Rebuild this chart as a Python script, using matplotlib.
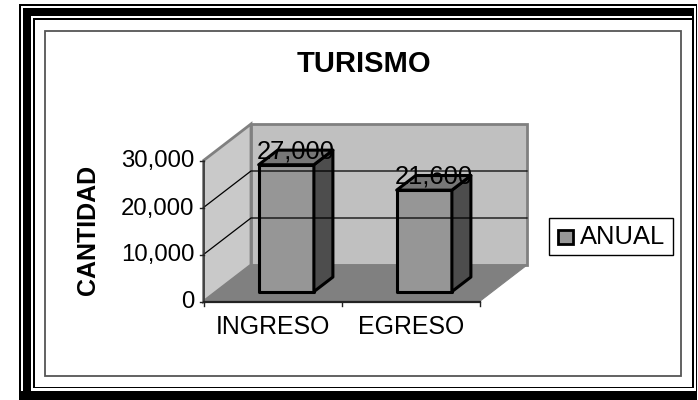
import matplotlib
matplotlib.use("Agg")
import matplotlib.pyplot as plt
from matplotlib.patches import Polygon, Rectangle

categories = ["INGRESO", "EGRESO"]
anual = [27000, 21600]
value_ticks = [0, 10000, 20000, 30000]
tick_labels = ["0", "10,000", "20,000", "30,000"]
title = "TURISMO"
y_title = "CANTIDAD"
legend_label = "ANUAL"

W, H = 698, 400
plt.rcParams["font.family"] = ["Liberation Sans", "DejaVu Sans"]

# pixel layout of the fake 3d box
X0, Y0 = 203.5, 301.5
BOX_W = 276.0
PX_PER_VAL = 141.0 / 30000
DX, DY = 47.5, -36.5
VMAX = 30000

fig = plt.figure(figsize=(W / 100, H / 100), dpi=100)
ax = fig.add_axes([0, 0, 1, 1])
ax.set_xlim(0, W)
ax.set_ylim(H, 0)
ax.axis("off")


def proj(slot, val, depth=0.0):
    # slot in category units, depth 0 front .. 1 back
    x = X0 + slot * BOX_W / len(categories) + depth * DX
    y = Y0 - val * PX_PER_VAL + depth * DY
    return (x, y)


def black_rect(x0, y0, x1, y1):
    ax.add_patch(Rectangle((x0, y0), x1 - x0, y1 - y0, fc="black", ec="none"))


# outer frame
black_rect(19, 4, 697, 6)
black_rect(19, 4, 21, 400)
black_rect(695.7, 4, 697, 400)
black_rect(22.5, 7.5, 694, 15.5)
black_rect(22.5, 7.5, 31, 400)
black_rect(692, 7.5, 694, 388)
black_rect(33, 18, 692, 20)
black_rect(33, 18, 35, 388)
black_rect(33, 386.8, 694, 388.2)
black_rect(19, 391, 697, 400)
ax.add_patch(Rectangle((44.5, 30.5), 636.2, 345, fc="white", ec="#555555", lw=1.3))

# walls and floor
n = len(categories)
ax.add_patch(Polygon([proj(0, 0), proj(0, VMAX), proj(0, VMAX, 1), proj(0, 0, 1)],
                     fc="#c9c9c9", ec="#808080", lw=2, joinstyle="miter"))
ax.add_patch(Polygon([proj(0, 0, 1), proj(0, VMAX, 1), proj(n, VMAX, 1), proj(n, 0, 1)],
                     fc="#c0c0c0", ec="#808080", lw=2, joinstyle="miter"))
ax.add_patch(Polygon([proj(0, 0), proj(0, 0, 1), proj(n, 0, 1), proj(n, 0)],
                     fc="#808080", ec="#808080", lw=0.8))

# grid
for v in value_ticks[1:-1]:
    a, b, c = proj(0, v), proj(0, v, 1), proj(n, v, 1)
    ax.plot([a[0], b[0], c[0]], [a[1], b[1], c[1]], color="black", lw=0.9)

# axes lines and ticks
a, b = proj(0, 0), proj(0, VMAX)
ax.plot([a[0], b[0]], [a[1], b[1]], color="#333333", lw=1.1)
a, b = proj(0, 0), proj(n, 0)
ax.plot([a[0], b[0]], [a[1], b[1]], color="#222222", lw=1.6)
for v, lab in zip(value_ticks, tick_labels):
    x, y = proj(0, v)
    ax.plot([x - 4, x], [y, y], color="#222222", lw=1)
    ax.text(x - 9, y + 7, lab, ha="right", va="baseline", fontsize=17.3, color="black")
for i in range(n + 1):
    x, y = proj(i, 0)
    ax.plot([x, x], [y, y + 4], color="#222222", lw=1)
for i, cat in enumerate(categories):
    x, y = proj(i + 0.5, 0)
    ax.text(x + 0.5, 333.5, cat, ha="center", va="baseline", fontsize=17.9, color="black")

# bars
BAR_W = 0.4
D0, D1 = 0.27, 0.67
BAR_SHIFT = 0.007
for i, val in enumerate(anual):
    c = i + 0.5 + BAR_SHIFT
    l, r = c - BAR_W / 2, c + BAR_W / 2
    style = dict(ec="black", lw=2.2, joinstyle="round")
    ax.add_patch(Polygon([proj(l, 0, D0), proj(l, val, D0), proj(r, val, D0), proj(r, 0, D0)],
                         fc="#969696", **style))
    ax.add_patch(Polygon([proj(r, 0, D0), proj(r, val, D0), proj(r, val, D1), proj(r, 0, D1)],
                         fc="#4d4d4d", **style))
    ax.add_patch(Polygon([proj(l, val, D0), proj(l, val, D1), proj(r, val, D1), proj(r, val, D0)],
                         fc="#777777", **style))
    x, y = proj(c, val, D0)
    ax.text(x + 9.5, y - 6.3, f"{val:,}", ha="center", va="baseline", fontsize=18.4, color="black")

# titles
ax.text(364, 71.5, title, ha="center", va="baseline", fontsize=21, fontweight="bold")
ax.text(87.5, 229.5, y_title, rotation=90, ha="center", va="center", fontsize=18, fontweight="bold")

# legend
ax.add_patch(Rectangle((548.5, 217.5), 124, 37.5, fc="white", ec="black", lw=1))
ax.add_patch(Rectangle((557.5, 229.5), 15, 14, fc="#969696", ec="black", lw=2))
ax.text(580, 244.5, legend_label, ha="left", va="baseline", fontsize=18.4)

fig.savefig("out.png", dpi=100)
plt.close(fig)
